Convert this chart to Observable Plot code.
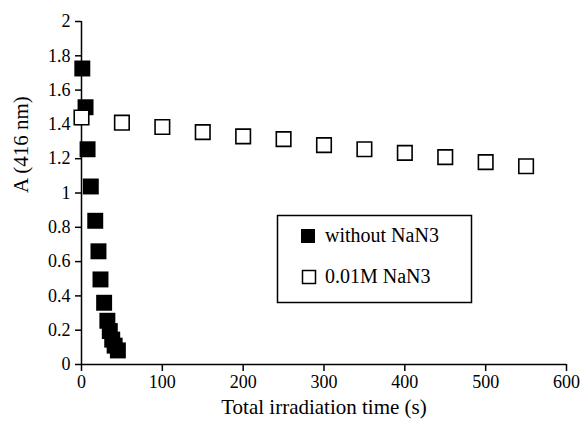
<!DOCTYPE html>
<html>
<head>
<meta charset="utf-8">
<script src="https://cdn.jsdelivr.net/npm/d3@7"></script>
<script src="https://cdn.jsdelivr.net/npm/@observablehq/plot@0.6"></script>
<style>
  html, body { margin: 0; padding: 0; background: #fff; }
  #chart { position: relative; width: 580px; height: 424px; }
  #chart svg, #chart svg text { font-family: "Liberation Serif", "Times New Roman", serif !important; }
</style>
</head>
<body>
<div id="chart"></div>
<script>
// Series 1: without NaN3 (filled squares)
const timeWithout = [1, 5, 7.5, 11.5, 17, 21, 23.5, 28, 32, 35, 38, 41, 45];
const absWithout  = [1.726, 1.50, 1.255, 1.038, 0.838, 0.66, 0.496, 0.36, 0.255, 0.195, 0.145, 0.11, 0.082];
// Series 2: 0.01M NaN3 (open squares)
const timeWith = [0, 50, 100, 150, 200, 250, 300, 350, 400, 450, 500, 550];
const absWith  = [1.44, 1.41, 1.385, 1.355, 1.33, 1.314, 1.279, 1.255, 1.234, 1.209, 1.18, 1.156];

const seriesNames = ["without NaN3", "0.01M NaN3"];
const xTicks = [0, 100, 200, 300, 400, 500, 600];
const yTicks = [0, 0.2, 0.4, 0.6, 0.8, 1, 1.2, 1.4, 1.6, 1.8, 2];
const yTickLabels = ["0", "0.2", "0.4", "0.6", "0.8", "1", "1.2", "1.4", "1.6", "1.8", "2"];
const xTitle = "Total irradiation time (s)";
const yTitle = "A (416 nm)";

const without = timeWithout.map((t, i) => ({t, a: absWithout[i]}));
const withN = timeWith.map((t, i) => ({t, a: absWith[i]}));

const font = "'Liberation Serif', 'Times New Roman', serif";

const chart = Plot.plot({
  width: 580,
  height: 424,
  marginLeft: 81,
  marginRight: 14,
  marginTop: 21,
  marginBottom: 60,
  style: {fontFamily: font, fontSize: "18px", color: "#000", background: "#fff", overflow: "visible"},
  x: {domain: [0, 600]},
  y: {domain: [0, 2]},
  marks: [
    Plot.axisX({ticks: xTicks, tickSize: 7, tickPadding: 4, label: null, fontSize: 18, stroke: "#000", strokeWidth: 1.5}),
    Plot.axisY({ticks: yTicks, tickSize: 6, tickPadding: 5, label: null, fontSize: 18,
      tickFormat: d => yTickLabels[yTicks.indexOf(d)], stroke: "#000", strokeWidth: 1.5}),
    Plot.ruleX([0], {stroke: "#000", strokeWidth: 1.5}),
    Plot.ruleY([0], {stroke: "#000", strokeWidth: 1.5}),
    Plot.dot(without, {x: "t", y: "a", symbol: "square", r: 9.0, fill: "#000", stroke: "none"}),
    Plot.dot(withN, {x: "t", y: "a", symbol: "square", r: 8.2, fill: "#fff", stroke: "#000", strokeWidth: 1.6}),
    Plot.text([xTitle], {frameAnchor: "bottom", dy: 49, fontSize: 21, fill: "#000"}),
    Plot.text([yTitle], {frameAnchor: "left", dx: -60, rotate: -90, fontSize: 21, fill: "#000"})
  ]
});

// Legend box inside the plot area
const svg = d3.select(chart);
const lg = svg.append("g").attr("font-family", font).attr("font-size", 20).attr("text-anchor", "start");
lg.append("rect").attr("x", 277.5).attr("y", 215.5).attr("width", 194).attr("height", 87)
  .attr("fill", "#fff").attr("stroke", "#000").attr("stroke-width", 1.5);
lg.append("rect").attr("x", 301).attr("y", 229).attr("width", 14).attr("height", 14).attr("fill", "#000");
lg.append("text").attr("x", 325).attr("y", 242).attr("fill", "#000").text(seriesNames[0]);
lg.append("rect").attr("x", 302.5).attr("y", 270.5).attr("width", 13).attr("height", 13)
  .attr("fill", "#fff").attr("stroke", "#000").attr("stroke-width", 1.5);
lg.append("text").attr("x", 325).attr("y", 283).attr("fill", "#000").text(seriesNames[1]);

document.getElementById("chart").appendChild(chart);
</script>
</body>
</html>
